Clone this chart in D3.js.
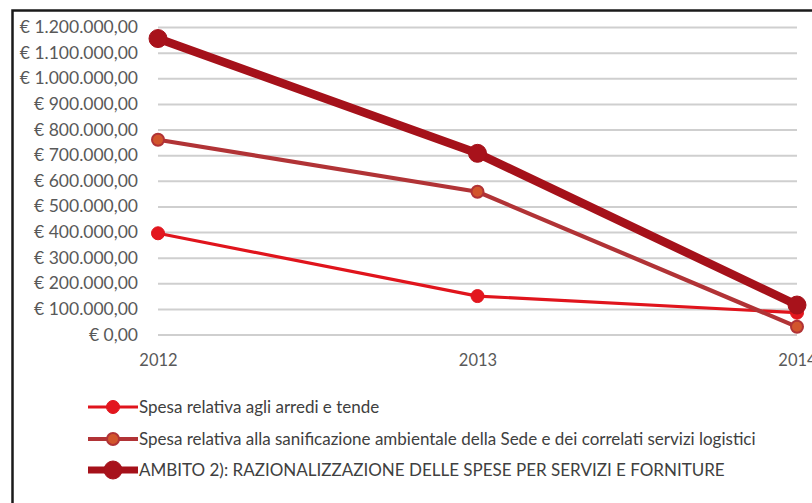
<!DOCTYPE html>
<html>
<head>
<meta charset="utf-8">
<script src="https://cdn.jsdelivr.net/npm/d3@7"></script>
<style>
  html, body { margin: 0; padding: 0; background: #fff; }
  svg { display: block; }
</style>
</head>
<body>
<svg id="chart" width="812" height="503"></svg>
<script>
// Years on the horizontal axis
const years = ["2012", "2013", "2014"];

// Series values in euro
const arrediValues = [395000, 150000, 85000];
const sanificazioneValues = [760000, 557000, 30000];
const ambitoValues = [1155000, 707000, 115000];

// Series names shown in the legend
const seriesNames = [
  "Spesa relativa agli arredi e tende",
  "Spesa relativa alla sanificazione ambientale della Sede e dei correlati servizi logistici",
  "AMBITO 2): RAZIONALIZZAZIONE DELLE SPESE PER SERVIZI E FORNITURE"
];

// Y axis tick values
const yTicks = [0, 100000, 200000, 300000, 400000, 500000, 600000,
                700000, 800000, 900000, 1000000, 1100000, 1200000];

const seriesValues = [arrediValues, sanificazioneValues, ambitoValues];
const styles = [
  { stroke: "#e0141c", width: 3.2, r: 6.5, fill: "#e3161e", mstroke: "#e0141c", mwidth: 1 },
  { stroke: "#b13336", width: 4.2, r: 6, fill: "#d2552c", mstroke: "#b13336", mwidth: 2 },
  { stroke: "#a5111a", width: 8.5, r: 9, fill: "#a8121b", mstroke: "#a5111a", mwidth: 1 }
];

const svg = d3.select("#chart");

const x = d3.scalePoint().domain(years).range([158, 797]);
const y = d3.scaleLinear().domain([0, 1200000]).range([334.5, 27]);

const it = d3.formatLocale({ decimal: ",", thousands: ".", grouping: [3], currency: ["€ ", ""] });
const euro = it.format("$,.2f");

const font = "Lato, 'Open Sans', sans-serif";

// Gridlines + value labels
const yAxis = svg.append("g")
  .attr("transform", `translate(${x.range()[0]},0)`)
  .call(d3.axisLeft(y).tickValues(yTicks).tickFormat(euro)
    .tickSize(-(x.range()[1] - x.range()[0])).tickPadding(20));
yAxis.select(".domain").remove();
yAxis.selectAll(".tick line").attr("stroke", "#cfcfcf").attr("stroke-width", 2);
yAxis.selectAll(".tick text")
  .attr("fill", "#595959").style("font-family", font).style("font-size", "17.5px");

// Year labels
const xAxis = svg.append("g")
  .attr("transform", `translate(0,${y(0)})`)
  .call(d3.axisBottom(x).tickSize(0).tickPadding(20));
xAxis.select(".domain").remove();
xAxis.selectAll(".tick text")
  .attr("fill", "#595959").style("font-family", font).style("font-size", "16.5px");

// Lines and markers
const line = d3.line().x((d, i) => x(years[i])).y(d => y(d));
seriesValues.forEach((vals, k) => {
  const s = styles[k];
  const g = svg.append("g");
  g.append("path").datum(vals)
    .attr("d", line).attr("fill", "none")
    .attr("stroke", s.stroke).attr("stroke-width", s.width)
    .attr("stroke-linejoin", "round").attr("stroke-linecap", "round");
  g.selectAll("circle").data(vals).join("circle")
    .attr("cx", (d, i) => x(years[i])).attr("cy", d => y(d)).attr("r", s.r)
    .attr("fill", s.fill).attr("stroke", s.mstroke).attr("stroke-width", s.mwidth);
});

// Legend
const legendY = [407, 439, 470];
seriesNames.forEach((name, k) => {
  const s = styles[k];
  const g = svg.append("g").attr("transform", `translate(0,${legendY[k]})`);
  g.append("line").attr("x1", 88).attr("x2", 138).attr("y1", 0).attr("y2", 0)
    .attr("stroke", s.stroke).attr("stroke-width", Math.min(s.width, 7));
  g.append("circle").attr("cx", 113).attr("cy", 0).attr("r", s.r)
    .attr("fill", s.fill).attr("stroke", s.mstroke).attr("stroke-width", s.mwidth);
  g.append("text").attr("x", 139).attr("y", 0).attr("dy", "0.35em")
    .attr("fill", "#404040").style("font-family", font).style("font-size", "17px")
    .text(name);
});

// Frame (left and top edges)
svg.append("path").attr("d", "M12.5,503 V10.5 H812")
  .attr("fill", "none").attr("stroke", "#1a1a1a").attr("stroke-width", 2.5);
</script>
</body>
</html>
